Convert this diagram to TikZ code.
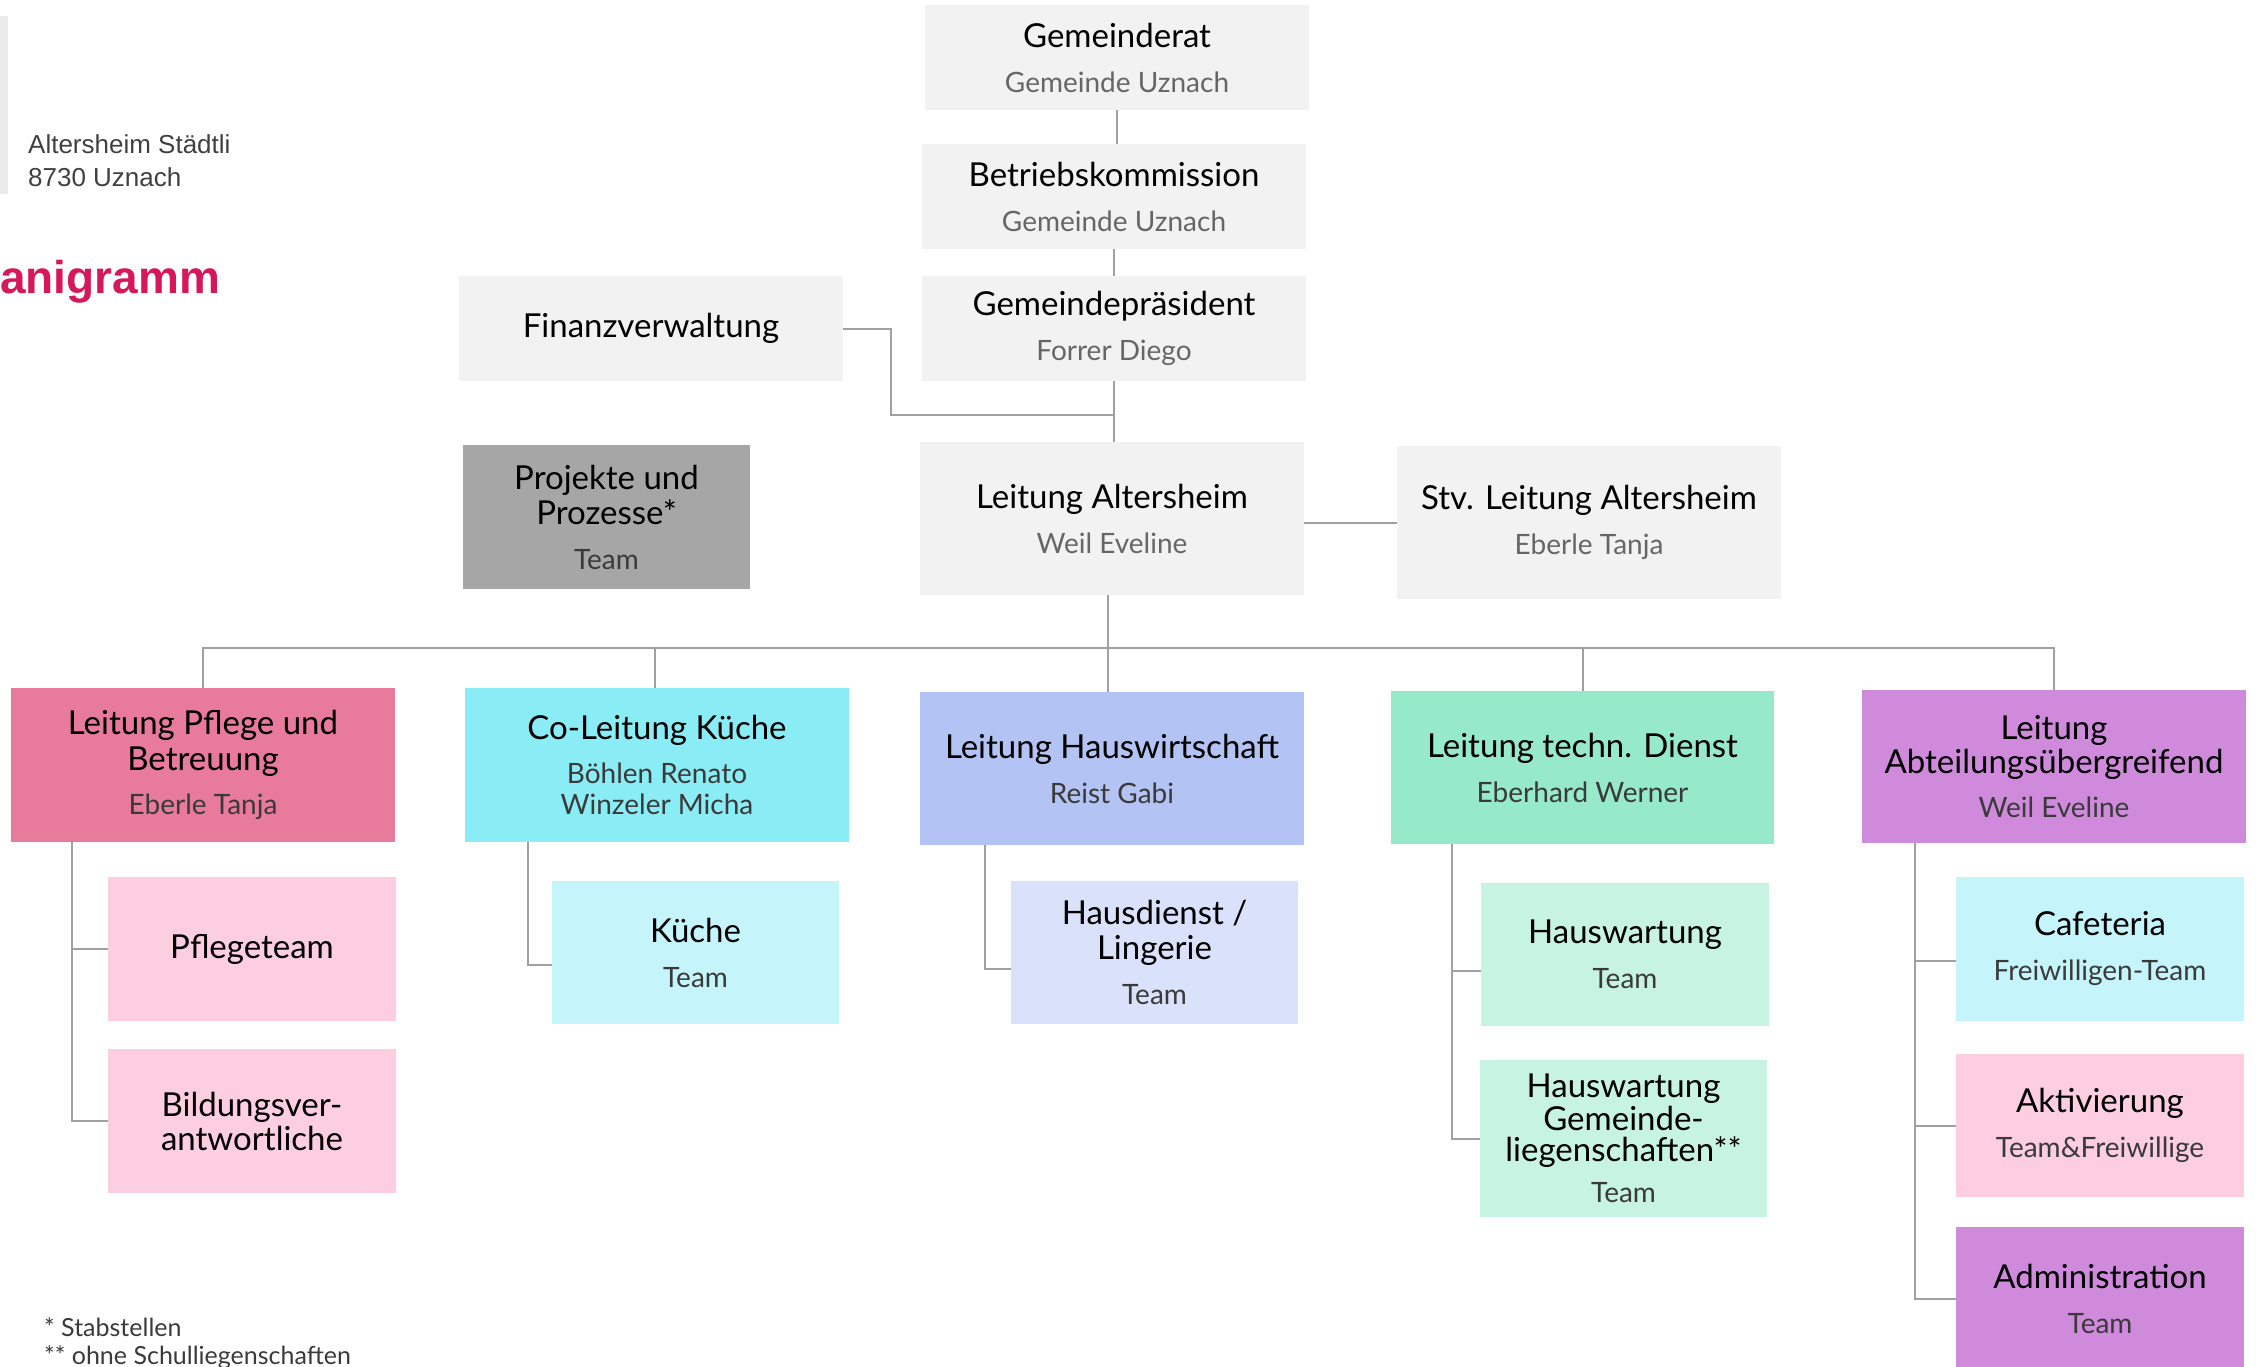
\documentclass[tikz,border=0pt]{standalone}
\usepackage{fontspec}
\setmainfont{Lato}
\newfontfamily\arialfont{Liberation Sans}
\usetikzlibrary{calc}
\definecolor{boxgrey}{HTML}{F2F2F2}
\definecolor{projgrey}{HTML}{A6A6A6}
\definecolor{pflege}{HTML}{E87B9C}
\definecolor{kueche}{HTML}{8AEDF5}
\definecolor{hausw}{HTML}{B3C3F3}
\definecolor{techn}{HTML}{96E9C9}
\definecolor{abteil}{HTML}{D08ADC}
\definecolor{lpink}{HTML}{FDCDE0}
\definecolor{lcyan}{HTML}{C5F5FA}
\definecolor{lblue}{HTML}{D9E1FB}
\definecolor{lgreen}{HTML}{C7F3E2}
\definecolor{linegrey}{HTML}{A0A0A0}
\definecolor{subgrey}{HTML}{666666}
\definecolor{subdark}{HTML}{3A3A3A}
\definecolor{titlered}{HTML}{D6175A}
\definecolor{addrgrey}{HTML}{404040}
\newcommand\orgtitle{\fontsize{33}{36}\selectfont}
\newcommand\orgsubg{\fontsize{28}{36}\selectfont\color{subgrey}}
\newcommand\orgsubd{\fontsize{28}{36}\selectfont\color{subdark}}
\tikzset{
  orgbox/.style={rectangle, inner sep=0pt, align=center, font=\orgtitle, text=black},
  conn/.style={draw=linegrey, line width=2pt},
}
\begin{document}
\begin{tikzpicture}[x=1pt,y=-1pt]
\useasboundingbox (0,0) rectangle (2256,1367);
% header
\fill[black!8] (0,16) rectangle (8,194);
\node[anchor=base west, inner sep=0pt, font=\arialfont\fontsize{26}{30}\selectfont, text=addrgrey] (addr1) at (28,154) {Altersheim Städtli};
\node[anchor=base west, inner sep=0pt, font=\arialfont\fontsize{26}{30}\selectfont, text=addrgrey] (addr2) at (28,186) {8730 Uznach};
\node[anchor=base west, inner sep=0pt, font=\arialfont\bfseries\fontsize{46}{50}\selectfont, text=titlered] (title) at (0,293) {anigramm};
% top chain
\node[orgbox, fill=boxgrey, minimum width=384pt, minimum height=105pt] (GR) at (1117,57.5) {Gemeinderat\\[9pt]\orgsubg Gemeinde Uznach};
\node[orgbox, fill=boxgrey, minimum width=384pt, minimum height=105pt] (BK) at (1114,196.5) {Betriebskommission\\[9pt]\orgsubg Gemeinde Uznach};
\node[orgbox, fill=boxgrey, minimum width=384pt, minimum height=105pt] (GP) at (1114,328.5) {Gemeindepräsident\\[9pt]\orgsubg Forrer Diego};
\node[orgbox, fill=boxgrey, minimum width=384pt, minimum height=105pt] (FV) at (651,328.5) {Finanzverwaltung};
\node[orgbox, fill=projgrey, minimum width=287pt, minimum height=144pt] (PP) at (606.5,517) {Projekte und\\[-1pt]Prozesse*\\[9pt]\orgsubd Team};
\node[orgbox, fill=boxgrey, minimum width=384pt, minimum height=153pt] (LA) at (1112,518.5) {Leitung Altersheim\\[9pt]\orgsubg Weil Eveline};
\node[orgbox, fill=boxgrey, minimum width=384pt, minimum height=153pt] (STV) at (1589,522.5) {Stv. Leitung Altersheim\\[9pt]\orgsubg Eberle Tanja};
% lead row
\node[orgbox, fill=pflege, minimum width=384pt, minimum height=154pt] (L1) at (203,765) {Leitung Pflege und\\[0pt]Betreuung\\[8pt]\orgsubd Eberle Tanja};
\node[orgbox, fill=kueche, minimum width=384pt, minimum height=154pt] (L2) at (657,765) {Co-Leitung Küche\\[8pt]\orgsubd Böhlen Renato\\[-5pt]\orgsubd Winzeler Micha};
\node[orgbox, fill=hausw, minimum width=384pt, minimum height=153pt] (L3) at (1112,768.5) {Leitung Hauswirtschaft\\[9pt]\orgsubd Reist Gabi};
\node[orgbox, fill=techn, minimum width=383pt, minimum height=153pt] (L4) at (1582.5,767.5) {Leitung techn. Dienst\\[9pt]\orgsubd Eberhard Werner};
\node[orgbox, fill=abteil, minimum width=384pt, minimum height=153pt] (L5) at (2054,766.5) {Leitung\\[-2pt]Abteilungsübergreifend\\[8pt]\orgsubd Weil Eveline};
% sub boxes
\node[orgbox, fill=lpink, minimum width=288pt, minimum height=144pt] (S11) at (252,949) {Pflegeteam};
\node[orgbox, fill=lpink, minimum width=288pt, minimum height=144pt] (S12) at (252,1121) {Bildungsver-\\[-2pt]antwortliche};
\node[orgbox, fill=lcyan, minimum width=287pt, minimum height=143pt] (S21) at (695.5,952.5) {Küche\\[9pt]\orgsubd Team};
\node[orgbox, fill=lblue, minimum width=287pt, minimum height=143pt] (S31) at (1154.5,952.5) {Hausdienst /\\[-1pt]Lingerie\\[9pt]\orgsubd Team};
\node[orgbox, fill=lgreen, minimum width=288pt, minimum height=143pt] (S41) at (1625,954.5) {Hauswartung\\[9pt]\orgsubd Team};
\node[orgbox, fill=lgreen, minimum width=287pt, minimum height=157pt] (S42) at (1623.5,1138.5) {Hauswartung\\[-3pt]Gemeinde-\\[-5pt]liegenschaften**\\[5pt]\orgsubd Team};
\node[orgbox, fill=lcyan, minimum width=288pt, minimum height=144pt] (S51) at (2100,949) {Cafeteria\\[9pt]\orgsubd Freiwilligen-Team};
\node[orgbox, fill=lpink, minimum width=288pt, minimum height=143pt] (S52) at (2100,1125.5) {Aktivierung\\[9pt]\orgsubd Team\&Freiwillige};
\node[orgbox, fill=abteil, minimum width=288pt, minimum height=144pt] (S53) at (2100,1299) {Administration\\[9pt]\orgsubd Team};
% footnotes
\node[anchor=base west, inner sep=0pt, font=\fontsize{25}{30}\selectfont, text=subdark] (fn1) at (44,1336) {* Stabstellen};
\node[anchor=base west, inner sep=0pt, font=\fontsize{25}{30}\selectfont, text=subdark] (fn2) at (44,1364) {** ohne Schulliegenschaften};
% connectors top
\draw[conn] (GR.south) -- (GR.south |- BK.north);
\draw[conn] (BK.south) -- (BK.south |- GP.north);
\draw[conn] (GP.south) -- (GP.south |- LA.north);
\coordinate (fvj) at ($(GP.south)!0.55!(GP.south |- LA.north)$);
\draw[conn] (FV.east) -- ++(48,0) |- (fvj);
\draw[conn] (STV.west -| LA.east) -- (STV.west);
% bus
\coordinate (bus) at (0,648);
\draw[conn] ($(LA.south)+(-4,0)$) -- ($(LA.south |- bus)+(-4,0)$);
\draw[conn] (L1.north) -- (L1.north |- bus) -- (L5.north |- bus) -- (L5.north);
\draw[conn] ($(L2.north)+(-2,0)$) -- ($(L2.north |- bus)+(-2,0)$);
\draw[conn] ($(L3.north)+(-4,0)$) -- ($(L3.north |- bus)+(-4,0)$);
\draw[conn] (L4.north) -- (L4.north |- bus);
% sub trees
\coordinate (t1) at ($(L1.south west)+(61,0)$);
\draw[conn] (t1) |- (S12.west);
\draw[conn] (t1 |- S11.west) -- (S11.west);
\coordinate (t2) at ($(L2.south west)+(63,0)$);
\draw[conn] (t2) |- ($(S21.west)+(0,12.5)$);
\coordinate (t3) at ($(L3.south west)+(65,0)$);
\draw[conn] (t3) |- ($(S31.west)+(0,16.5)$);
\coordinate (t4) at ($(L4.south west)+(61,0)$);
\draw[conn] (t4) |- (S42.west);
\draw[conn] ($(t4 |- S41.west)+(0,16.5)$) -- ($(S41.west)+(0,16.5)$);
\coordinate (t5) at ($(L5.south west)+(53,0)$);
\draw[conn] (t5) |- (S53.west);
\draw[conn] ($(t5 |- S51.west)+(0,12)$) -- ($(S51.west)+(0,12)$);
\draw[conn] (t5 |- S52.west) -- (S52.west);
\end{tikzpicture}
\end{document}
